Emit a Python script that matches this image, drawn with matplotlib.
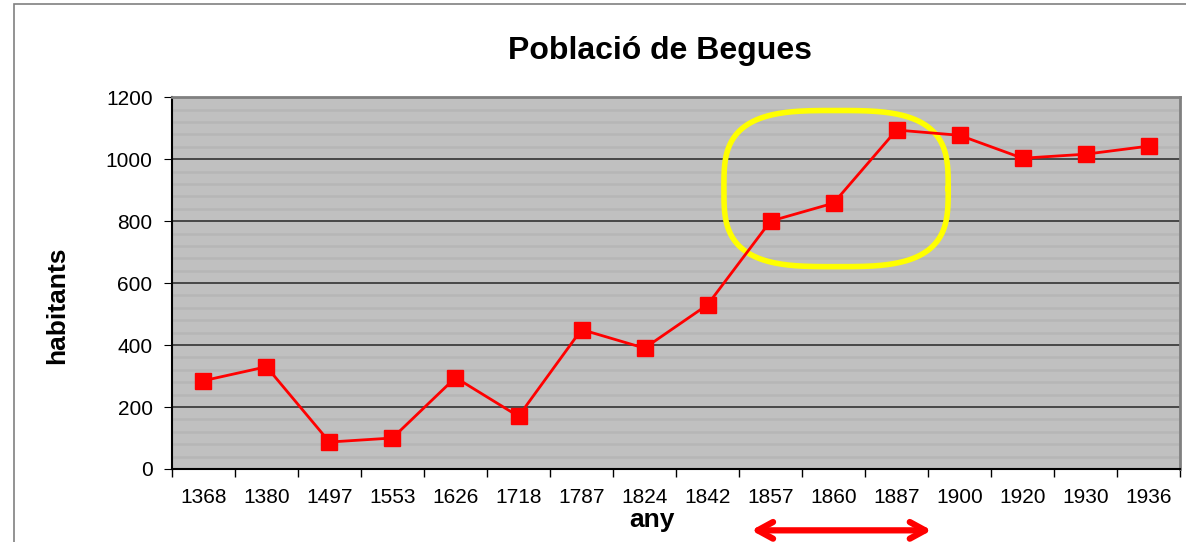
import numpy as np
import matplotlib.pyplot as plt
from matplotlib.patches import Rectangle

plt.rcParams['font.family'] = ['Liberation Sans', 'DejaVu Sans']

# Data
years = ['1368', '1380', '1497', '1553', '1626', '1718', '1787', '1824',
         '1842', '1857', '1860', '1887', '1900', '1920', '1930', '1936']
population = [285, 330, 87, 100, 295, 170, 450, 390,
              530, 800, 858, 1094, 1077, 1003, 1016, 1042]
highlight = ['1857', '1887']

fig = plt.figure(figsize=(11.86, 5.42), dpi=100)
ax = fig.add_axes([0.145, 0.1347, 0.850, 0.686])

# outer chart border
fig.patches.append(Rectangle((14 / 1186, -0.1), 1.2, 1.092, transform=fig.transFigure,
                             fill=False, edgecolor='#808080', linewidth=1.2))

ax.set_facecolor('#c0c0c0')
x = np.arange(len(years))
ax.plot(x, population, color='#ff0000', linewidth=2, marker='s', markersize=11,
        markerfacecolor='#ff0000', markeredgecolor='#ff0000', zorder=4)

ax.set_xlim(-0.5, len(years) - 0.5)
ax.set_ylim(0, 1200)
ax.set_yticks(np.arange(0, 1201, 200))
ax.set_yticks(np.arange(0, 1201, 40), minor=True)
ax.grid(axis='y', which='minor', color='#b6b6b6', linewidth=1.8)
ax.grid(axis='y', which='major', color='#333333', linewidth=1.2)
ax.set_axisbelow(True)

ax.set_xticks(x)
ax.set_xticklabels(years)
ax.set_xticks(np.arange(-0.5, len(years), 1), minor=True)
ax.tick_params(axis='x', which='major', length=0, labelsize=15, pad=14)
ax.tick_params(axis='x', which='minor', length=6, direction='out', width=1)
ax.tick_params(axis='y', which='major', length=6, direction='out', labelsize=15, pad=8)
ax.tick_params(axis='y', which='minor', length=0)

for s in ['left', 'bottom']:
    ax.spines[s].set_color('black')
    ax.spines[s].set_linewidth(1.5)
for s in ['top', 'right']:
    ax.spines[s].set_color('#808080')
    ax.spines[s].set_linewidth(2)

ax.set_ylabel('habitants', fontsize=19, fontweight='bold')
ax.yaxis.set_label_coords(-0.102, 0.44)
ax.set_xlabel('any', fontsize=19, fontweight='bold')
ax.xaxis.set_label_coords(0.476, -0.105)
fig.text(660 / 1186, 0.905, 'Població de Begues', ha='center', va='center',
         fontsize=23, fontweight='bold')

# yellow highlight around the marked years
i0, i1 = years.index(highlight[0]), years.index(highlight[1])
cx = (i0 + i1) / 2 + 0.04
cy = 905
a, b = (i1 - i0) / 2 + 0.78, 252
t = np.linspace(0, 2 * np.pi, 400)
n = 3.2
xs = cx + a * np.sign(np.cos(t)) * np.abs(np.cos(t)) ** (2 / n)
ys = cy + b * np.sign(np.sin(t)) * np.abs(np.sin(t)) ** (2 / n)
ax.plot(xs, ys, color='#ffff00', linewidth=4, zorder=3, clip_on=False)

# red double arrow under the axis
ax.annotate('', xy=(i0 - 0.35, -0.165), xytext=(i1 + 0.6, -0.165),
            xycoords=ax.get_xaxis_transform(), textcoords=ax.get_xaxis_transform(),
            arrowprops=dict(arrowstyle='<->,head_length=1.1,head_width=0.6',
                            color='#ff0000', linewidth=4.5), annotation_clip=False)

fig.savefig('out.png', dpi=100)
